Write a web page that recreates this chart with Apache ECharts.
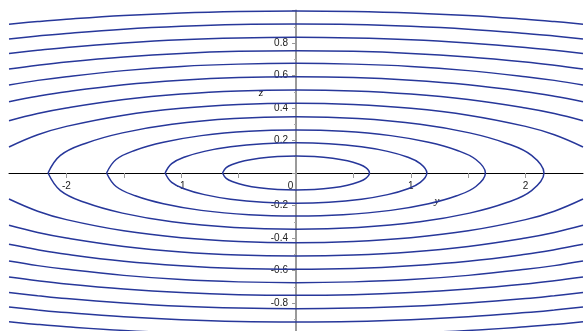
<!DOCTYPE html>
<html><head><meta charset="utf-8">
<script src="https://cdn.jsdelivr.net/npm/echarts@6/dist/echarts.min.js"></script>
<style>html,body{margin:0;padding:0;background:#fff}#c{width:585px;height:331px}</style>
</head><body><div id="c"></div>
<script>
// Tick / label values
const yTickValues = [-2, -1.5, -1, -0.5, 0, 0.5, 1, 1.5, 2];
const yLabelValues = [-2, -1, 0, 1, 2];
const zLabelValues = [-0.8, -0.6, -0.4, -0.2, 0.2, 0.4, 0.6, 0.8];

// Contour lines: first-quadrant points [y, z], from y = 0 outward.
// Closed rings (end on the y axis)
const contour1 = [[0,0.105],[0.16,0.102],[0.32,0.091],[0.448,0.075],[0.544,0.055],[0.608,0.033],[0.64,0]];
const contour2 = [[0,0.186],[0.285,0.180],[0.57,0.161],[0.798,0.133],[0.969,0.098],[1.083,0.058],[1.14,0]];
const contour3 = [[0,0.265],[0.41,0.257],[0.825,0.230],[1.155,0.189],[1.40,0.140],[1.567,0.083],[1.65,0]];
const contour4 = [[0,0.346],[0.54,0.335],[1.08,0.300],[1.512,0.247],[1.836,0.182],[2.052,0.108],[2.16,0]];
// Open contours (leave the plot at y = ±2.5)
const contour5  = [[0,0.429],[0.5,0.421],[1,0.398],[1.5,0.356],[2,0.287],[2.25,0.235],[2.5,0.160]];
const contour6  = [[0,0.511],[0.5,0.505],[1,0.486],[1.5,0.452],[2,0.400],[2.25,0.366],[2.5,0.322]];
const contour7  = [[0,0.593],[0.5,0.588],[1,0.571],[1.5,0.543],[2,0.500],[2.25,0.472],[2.5,0.439]];
const contour8  = [[0,0.675],[0.5,0.670],[1,0.656],[1.5,0.630],[2,0.593],[2.25,0.570],[2.5,0.542]];
const contour9  = [[0,0.753],[0.5,0.749],[1,0.736],[1.5,0.714],[2,0.683],[2.25,0.663],[2.5,0.640]];
const contour10 = [[0,0.835],[0.5,0.831],[1,0.820],[1.5,0.800],[2,0.773],[2.25,0.755],[2.5,0.735]];
const contour11 = [[0,0.917],[0.5,0.914],[1,0.903],[1.5,0.885],[2,0.859],[2.25,0.843],[2.5,0.825]];
const contour12 = [[0,0.997],[0.5,0.994],[1,0.985],[1.5,0.969],[2,0.946],[2.25,0.932],[2.5,0.916]];

const closedContours = [contour1, contour2, contour3, contour4];
const openContours = [contour5, contour6, contour7, contour8, contour9, contour10, contour11, contour12];

// The picture is symmetric about both axes
function upperHalf(q) {
  const left = q.slice(1).reverse().map(p => [-p[0], p[1]]);
  return left.concat(q);
}
function lowerHalf(q) {
  return upperHalf(q).map(p => [p[0], -p[1]]);
}
function closedRing(q) {
  const up = upperHalf(q);
  const low = lowerHalf(q).reverse().slice(1);
  return up.concat(low);
}

const lineColor = '#27379a';
const series = [];
function addLine(data) {
  series.push({
    type: 'line', data: data, smooth: 0.4, showSymbol: false, symbol: 'none',
    lineStyle: { color: lineColor, width: 1.5 }, clip: true, silent: true, animation: false
  });
}
closedContours.forEach(q => addLine(closedRing(q)));
openContours.forEach(q => { addLine(upperHalf(q)); addLine(lowerHalf(q)); });

const chart = echarts.init(document.getElementById('c'), null, { renderer: 'canvas' });
chart.setOption({
  animation: false,
  backgroundColor: '#ffffff',
  grid: { left: 9, top: 10.5, width: 574, height: 325, containLabel: false, outerBoundsMode: 'none' },
  xAxis: {
    type: 'value', min: -2.5, max: 2.5, position: 'bottom', offset: -162.5,
    name: 'y', nameLocation: 'middle', nameGap: 17,
    nameTextStyle: { fontFamily: 'Liberation Serif', fontStyle: 'italic', fontSize: 11, color: '#000', padding: [0, 0, 0, 282] },
    axisLine: { show: true, onZero: false, lineStyle: { color: '#000', width: 1 } },
    axisTick: { show: true, customValues: yTickValues, length: 5, lineStyle: { color: '#999' } },
    axisLabel: {
      show: true, customValues: yLabelValues, margin: 8, fontSize: 10,
      fontFamily: 'Liberation Sans', color: '#222',
      formatter: v => v === 0 ? '{o|0}' : String(v),
      rich: { o: { fontSize: 10, fontFamily: 'Liberation Sans', color: '#222', padding: [0, 11, 0, 0] } }
    },
    splitLine: { show: false }
  },
  yAxis: {
    type: 'value', min: -1, max: 1, interval: 0.2, position: 'left', offset: -287,
    name: 'z', nameLocation: 'end', nameGap: -88,
    nameTextStyle: { fontFamily: 'Liberation Serif', fontStyle: 'italic', fontSize: 11, color: '#000', padding: [0, 70, 0, 0] },
    axisLine: { show: true, onZero: false, lineStyle: { color: '#9a9a9a', width: 2 } },
    axisTick: { show: true, length: 4, lineStyle: { color: '#999' } },
    minorTick: { show: true, splitNumber: 2, length: 2, lineStyle: { color: '#aaa' } },
    axisLabel: {
      show: true, margin: 8, fontSize: 10, fontFamily: 'Liberation Sans', color: '#222',
      formatter: v => zLabelValues.some(t => Math.abs(t - v) < 1e-6) ? v.toFixed(1) : ''
    },
    splitLine: { show: false }
  },
  series: series
});
</script></body></html>
